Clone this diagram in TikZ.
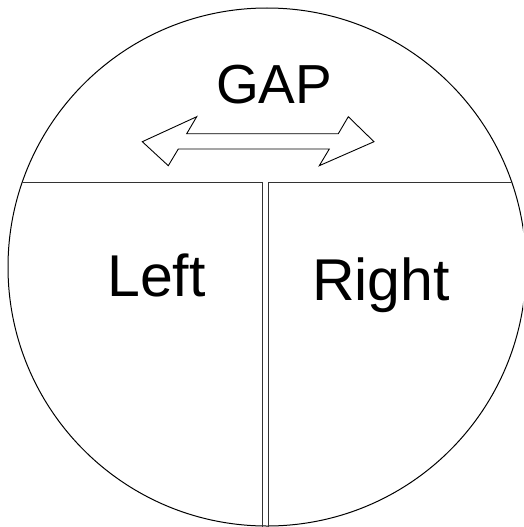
\documentclass[tikz,border=0pt]{standalone}
\usepackage{fontspec}
\setmainfont{Liberation Sans}
\begin{document}
\begin{tikzpicture}[x=1pt,y=-1pt,
  thinline/.style={line width=1pt,draw=black!80},
  lbl/.style={inner sep=0pt,anchor=base west,text=black}]
\useasboundingbox (0,0) rectangle (523,527);
\clip (0,0) rectangle (523,527);
\draw[line width=1pt] (267,267) circle (259);
\draw[thinline] (22.3,182) -- (262,182) -- (262,530);
\draw[thinline] (268.5,530) -- (268.5,182) -- (511.7,182);
\draw[line width=0.9pt,line join=miter]
  (142.3,141.7) -- (196.7,116.7) -- (186.7,133.7) -- (338.3,133.7) -- (348.3,116.7)
  -- (374,141.7) -- (319.3,165.7) -- (329.3,149) -- (178.3,149) -- (168.3,165.7) -- cycle;
\node[lbl] (gap) at (216,103) {\fontsize{55}{55}\selectfont GAP};
\node[lbl] (left) at (107,296) {\fontsize{59}{59}\selectfont Left};
\node[lbl] (right) at (312,300) {\fontsize{59}{59}\selectfont Right};
\end{tikzpicture}
\end{document}
